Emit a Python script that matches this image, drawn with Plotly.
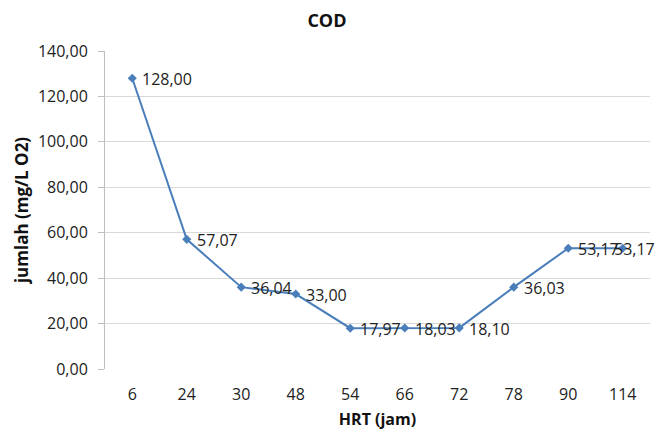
import plotly.graph_objects as go

categories = ["6", "24", "30", "48", "54", "66", "72", "78", "90", "114"]
cod_values = [128.00, 57.07, 36.04, 33.00, 17.97, 18.03, 18.10, 36.03, 53.17, 53.17]
y_ticks = [0, 20, 40, 60, 80, 100, 120, 140]

font_family = "'Open Sans', sans-serif"
line_color = "#4A7EBB"
text_color = "#222222"

fig = go.Figure()
fig.add_trace(go.Scatter(
    x=categories,
    y=cod_values,
    mode="lines+markers",
    line=dict(color=line_color, width=2),
    marker=dict(symbol="diamond", size=7, color=line_color),
    cliponaxis=False,
    hoverinfo="skip",
))

# data labels (the last one is pulled left to stay inside the chart, as in the reference)
for i, val in enumerate(cod_values):
    last = i == len(cod_values) - 1
    fig.add_annotation(
        x=i, y=val, xref="x", yref="y",
        text=f"{val:.2f}".replace(".", ","),
        showarrow=False,
        xanchor="left", yanchor="middle",
        xshift=-10 if last else 9, yshift=-1,
        borderpad=0,
        font=dict(family=font_family, size=16, color=text_color),
    )

fig.update_layout(
    width=670, height=430,
    margin=dict(l=105, r=20, t=51, b=61, autoexpand=False),
    paper_bgcolor="white",
    plot_bgcolor="white",
    separators=",.",
    showlegend=False,
    title=dict(text="<b>COD</b>", x=0.488, xanchor="center", y=0.953, yanchor="middle",
               font=dict(family=font_family, size=18, color="#111111")),
    font=dict(family=font_family, size=16, color=text_color),
)

fig.update_xaxes(
    type="category",
    range=[-0.5, 9.5],
    automargin=False,
    showgrid=False,
    showline=False,
    ticks="",
    ticklabelstandoff=14,
    tickfont=dict(family=font_family, size=16, color=text_color),
    title=dict(text="<b>HRT (jam)</b>", font=dict(family=font_family, size=16, color="#111111"), standoff=11),
)

fig.update_yaxes(
    range=[0, 140],
    tickvals=y_ticks,
    tickformat=".2f",
    automargin=False,
    showgrid=True,
    gridcolor="#D9D9D9",
    gridwidth=1,
    showline=True,
    linecolor="#BFBFBF",
    linewidth=1,
    ticks="outside",
    ticklen=6,
    tickcolor="#BFBFBF",
    ticklabelstandoff=7,
    zeroline=False,
    tickfont=dict(family=font_family, size=16, color=text_color),
    title=dict(text="<b>jumlah (mg/L O2)</b>", font=dict(family=font_family, size=17, color="#111111"), standoff=4),
)

fig.write_html("out.html")
